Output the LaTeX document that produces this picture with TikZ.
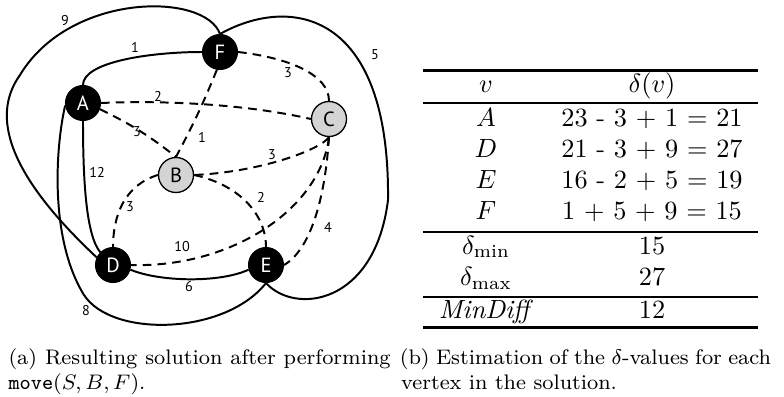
\documentclass[tikz,border=0pt]{standalone}
\usepackage{fontspec}
\newfontfamily\gfont{PT Sans}
\definecolor{lightg}{HTML}{D4D4D4}
\tikzset{
  vblack/.style={circle, fill=black, draw=black, minimum size=13.3pt, inner sep=0pt, text=white, font=\gfont\fontsize{7.8}{8}\selectfont},
  vgray/.style={circle, fill=lightg, draw=black, line width=0.5pt, minimum size=13.3pt, inner sep=0pt, text=black, font=\gfont\fontsize{7.8}{8}\selectfont},
  sol/.style={line width=0.75pt},
  dsh/.style={line width=0.75pt, dash pattern=on 3.3pt off 2.3pt},
  wt/.style={font=\gfont\fontsize{5.4}{6}\selectfont, inner sep=0pt},
  toprl/.style={line width=1.1pt},
  midrl/.style={line width=0.8pt},
  tcell/.style={anchor=base, inner sep=0pt, font=\normalsize},
  capline/.style={anchor=base west, inner sep=0pt, font=\footnotesize}
}
\begin{document}
\begin{tikzpicture}[x=0.38pt, y=-0.38pt]
\useasboundingbox (0,0) rectangle (784,396);
% ---------- graph nodes ----------
\node[vblack] (F) at (220,52) {F};
\node[vblack] (A) at (83,103) {A};
\node[vgray]  (C) at (329,119) {C};
\node[vgray]  (B) at (176,175) {B};
\node[vblack] (D) at (113,265) {D};
\node[vblack] (E) at (266,265) {E};
% ---------- solid edges ----------
\draw[sol] (A.north) .. controls (83,62) and (150,52) .. (F.west);
\draw[sol] (F.north) .. controls (205,-8) and (70,-8) .. (20,75)
           .. controls (-5,110) and (-2,165) .. (D.155);
\draw[sol] (A.south) .. controls (83,180) and (86,235) .. (D.135);
\draw[sol] (A.188) .. controls (55,150) and (50,240) .. (84,295)
           .. controls (112,338) and (225,335) .. (E.south);
\draw[sol] (D.-15) .. controls (160,282) and (220,283) .. (E.195);
\draw[sol] (E.south) .. controls (295,315) and (375,305) .. (388,200)
           .. controls (390,10) and (290,-5) .. (F.north);
% ---------- dashed edges ----------
\draw[dsh] (F.east) .. controls (290,58) and (329,75) .. (C.north);
\draw[dsh] (A.east) .. controls (170,100) and (250,105) .. (C.west);
\draw[dsh] (A.-20) to[bend left=6] (B.north);
\draw[dsh] (F.-100) to[bend left=3] (B.north);
\draw[dsh] (C.south) .. controls (320,150) and (260,172) .. (B.east);
\draw[dsh] (B.west) .. controls (125,185) and (113,215) .. (D.north);
\draw[dsh] (B.east) .. controls (240,185) and (266,215) .. (E.north);
\draw[dsh] (C.south) .. controls (320,210) and (230,268) .. (D.east);
\draw[dsh] (C.south) .. controls (325,200) and (310,250) .. (E.east);
% ---------- weights ----------
\node[wt] (w1)  at (135,47)  {1};
\node[wt] (w9)  at (65,21)   {9};
\node[wt] (w5)  at (375,55)  {5};
\node[wt] (w3a) at (288,73)  {3};
\node[wt] (w2a) at (158,96)  {2};
\node[wt] (w3b) at (137,132) {3};
\node[wt] (w1b) at (202,137) {1};
\node[wt] (w3c) at (272,155) {3};
\node[wt] (w12) at (97,172)  {12};
\node[wt] (w3d) at (130,207) {3};
\node[wt] (w2b) at (261,197) {2};
\node[wt] (w4)  at (328,227) {4};
\node[wt] (w10) at (182,247) {10};
\node[wt] (w6)  at (189,287) {6};
\node[wt] (w8)  at (86,311)  {8};
% ---------- table ----------
\coordinate (tl1) at (423,70.7);   \coordinate (tr1) at (758,70.7);
\coordinate (tl2) at (423,102.7);  \coordinate (tr2) at (758,102.7);
\coordinate (tl3) at (423,232.3);  \coordinate (tr3) at (758,232.3);
\coordinate (tl4) at (423,296.7);  \coordinate (tr4) at (758,296.7);
\coordinate (tl5) at (423,327.5);  \coordinate (tr5) at (758,327.5);
\draw[toprl] (tl1) -- (tr1);
\draw[midrl] (tl2) -- (tr2);
\draw[midrl] (tl3) -- (tr3);
\draw[midrl] (tl4) -- (tr4);
\draw[toprl] (tl5) -- (tr5);
\node[tcell] (h1) at (486,92)    {$v$};
\node[tcell] (h2) at (652,92)    {$\delta(v)$};
\node[tcell] (r1a) at (486,126.7) {$A$};
\node[tcell] (r1b) at (652,126.7) {23 - 3 + 1 = 21};
\node[tcell] (r2a) at (486,157.7) {$D$};
\node[tcell] (r2b) at (652,157.7) {21 - 3 + 9 = 27};
\node[tcell] (r3a) at (486,188.7) {$E$};
\node[tcell] (r3b) at (652,188.7) {16 - 2 + 5 = 19};
\node[tcell] (r4a) at (486,219.7) {$F$};
\node[tcell] (r4b) at (652,219.7) {1 + 5 + 9 = 15};
\node[tcell] (r5a) at (486,254) {$\delta_{\min}$};
\node[tcell] (r5b) at (652,254) {15};
\node[tcell] (r6a) at (486,285.7) {$\delta_{\max}$};
\node[tcell] (r6b) at (652,285.7) {27};
\node[tcell] (r7a) at (486,318) {\textit{MinDiff}};
\node[tcell] (r7b) at (652,318) {12};
% ---------- captions ----------
\node[capline] (ca1) at (8,364) {\makebox[145.2pt][s]{(a) Resulting solution after performing}};
\node[capline] (ca2) at (8,389) {\texttt{move}$(S, B, F)$.};
\node[capline] (cb1) at (399.3,364) {\makebox[141.1pt][s]{(b) Estimation of the $\delta$-values for each}};
\node[capline] (cb2) at (400.7,389) {vertex in the solution.};
\end{tikzpicture}
\end{document}
